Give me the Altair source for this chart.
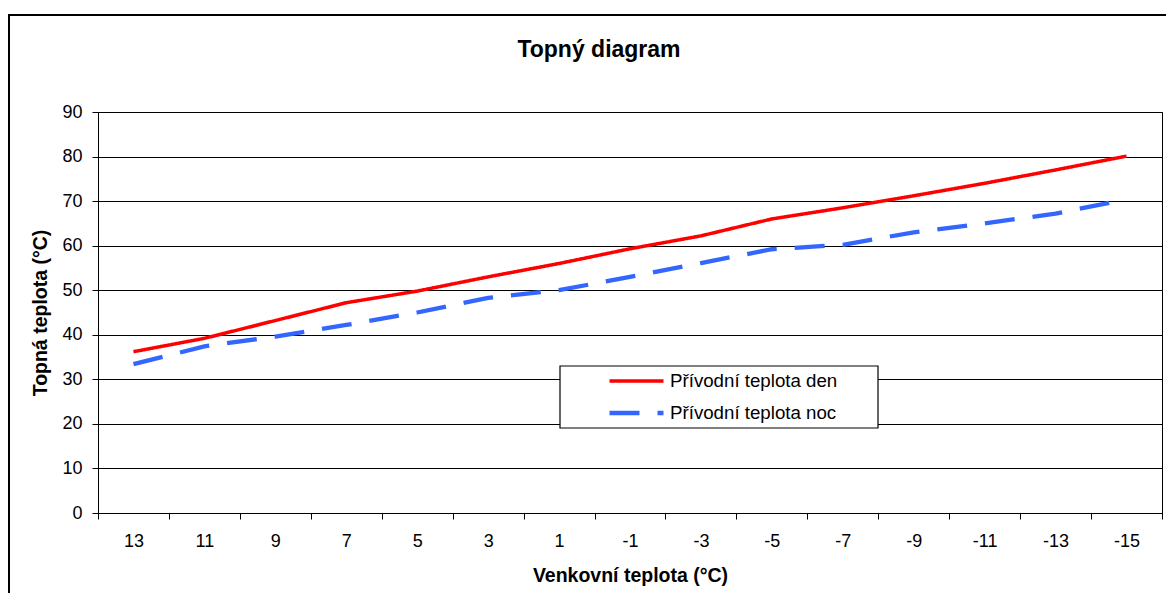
import altair as alt
import pandas as pd

categories = ["13", "11", "9", "7", "5", "3", "1", "-1", "-3", "-5", "-7", "-9", "-11", "-13", "-15"]
den = [36.2, 39.2, 43.2, 47.2, 49.8, 53.0, 56.0, 59.3, 62.2, 66.0, 68.5, 71.2, 74.0, 77.0, 80.1]
noc = [33.4, 37.4, 39.6, 42.2, 45.0, 48.3, 50.0, 53.0, 56.1, 59.2, 60.2, 63.0, 65.0, 67.2, 70.4]
series_names = ["Přívodní teplota den", "Přívodní teplota noc"]
y_ticks = [0, 10, 20, 30, 40, 50, 60, 70, 80, 90]
chart_title = "Topný diagram"

rows = []
for s, vals in zip(series_names, [den, noc]):
    for c, v in zip(categories, vals):
        rows.append({"t": c, "v": v, "s": s})
df = pd.DataFrame(rows)

FONT = "Liberation Sans"

legend = alt.Legend(
    title=None,
    orient="none",
    legendX=462,
    legendY=254,
    padding=6,
    symbolType="stroke",
    symbolSize=2916,
    symbolOffset=41,
    labelOffset=4,
    clipHeight=18,
    rowPadding=13,
    labelFont=FONT,
    labelFontSize=18.7,
    labelColor="black",
    labelLimit=400,
)

lines = alt.Chart(df).mark_line().encode(
    x=alt.X(
        "t:N",
        sort=categories,
        scale=alt.Scale(type="band", paddingInner=0, paddingOuter=0),
        axis=alt.Axis(
            title="Venkovní teplota (°C)",
            tickBand="extent",
            labelAngle=0,
            labelPadding=13,
            titlePadding=16,
        ),
    ),
    y=alt.Y(
        "v:Q",
        scale=alt.Scale(domain=[0, 90], nice=False),
        axis=alt.Axis(
            title="Topná teplota (°C)",
            values=y_ticks,
            grid=True,
            gridColor="black",
            gridWidth=1,
            labelPadding=10,
            titlePadding=11,
        ),
    ),
    color=alt.Color(
        "s:N",
        scale=alt.Scale(domain=series_names, range=["#FF0000", "#3366FF"]),
        legend=legend,
    ),
    strokeDash=alt.StrokeDash(
        "s:N",
        scale=alt.Scale(domain=series_names, range=[[1, 0], [30, 18]]),
        legend=legend,
    ),
    strokeWidth=alt.StrokeWidth(
        "s:N",
        scale=alt.Scale(type="ordinal", domain=series_names, range=[3.5, 4.3]),
        legend=legend,
    ),
)

# legend frame (decoration)
legend_box = alt.Chart(alt.Data(values=[{"a": 1}])).mark_rect(
    fill="white", stroke="black", strokeWidth=1.2
).encode(
    x=alt.value(462),
    x2=alt.value(780),
    y=alt.value(254),
    y2=alt.value(316),
)

# outer chart frame (decoration)
border = alt.Chart(alt.Data(values=[{"a": 1}])).mark_rect(
    fillOpacity=0, stroke="black", strokeWidth=2
).encode(
    x=alt.value(-89),
    x2=alt.value(1300),
    y=alt.value(-97),
    y2=alt.value(700),
)

# chart title
title = alt.Chart(alt.Data(values=[{"label": chart_title}])).mark_text(
    font=FONT, fontSize=23, fontWeight="bold", color="black",
    align="center", baseline="alphabetic",
).encode(
    text="label:N",
    x=alt.value(501),
    y=alt.value(-55),
)

chart = alt.layer(border, title, lines, legend_box).properties(
    width=1064,
    height=401,
    autosize=alt.AutoSizeParams(type="none"),
    padding={"left": 90, "top": 104, "right": 4, "bottom": 80},
    background="white",
).configure_view(
    stroke="black", strokeWidth=1
).configure_axis(
    labelFont=FONT,
    labelFontSize=18,
    labelColor="black",
    titleFont=FONT,
    titleFontSize=19.5,
    titleFontWeight="bold",
    titleColor="black",
    domainColor="black",
    domainWidth=1,
    tickColor="black",
    tickSize=6,
    tickWidth=1,
)

chart.save("out.html", embed_options={"renderer": "svg", "actions": False})
